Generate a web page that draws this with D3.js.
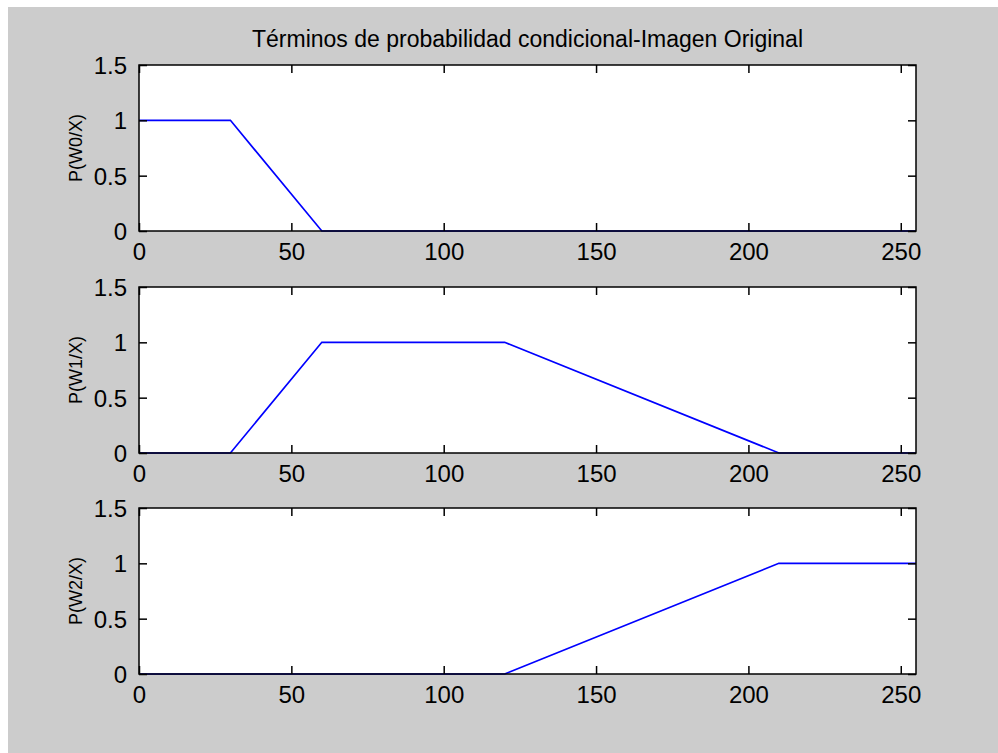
<!DOCTYPE html>
<html>
<head>
<meta charset="utf-8">
<script src="https://cdn.jsdelivr.net/npm/d3@7"></script>
<style>
  html, body { margin: 0; padding: 0; background: #ffffff; }
  svg { display: block; }
  text { font-family: "Liberation Sans Narrow", "Liberation Sans", Arial, sans-serif; fill: #000; }
</style>
</head>
<body>
<script>
// ---- data ----
const title = "Términos de probabilidad condicional-Imagen Original";
const yLabels = ["P(W0/X)", "P(W1/X)", "P(W2/X)"];
const xTicks = [0, 50, 100, 150, 200, 250];
const yTicks = [0, 0.5, 1, 1.5];
const xDomain = [0, 255];
const yDomain = [0, 1.5];
// breakpoints (x, y) of each curve
const w0X = [0, 30, 60, 255];
const w0Y = [1, 1, 0, 0];
const w1X = [0, 30, 60, 120, 210, 255];
const w1Y = [0, 0, 1, 1, 0, 0];
const w2X = [0, 120, 210, 255];
const w2Y = [0, 0, 1, 1];
const seriesX = [w0X, w1X, w2X];
const seriesY = [w0Y, w1Y, w2Y];

// ---- layout ----
const W = 998, H = 753;
const left = 139, plotW = 777, plotH = 166;
const tops = [65, 287, 508];
const tickLen = 8;

const svg = d3.select("body").append("svg").attr("width", W).attr("height", H);
svg.append("rect").attr("x", 8).attr("y", 7).attr("width", W - 8).attr("height", H - 7).attr("fill", "#cccccc");

svg.append("text").attr("x", left + plotW / 2).attr("y", 47)
  .attr("text-anchor", "middle").attr("font-size", 23).text(title);

const x = d3.scaleLinear().domain(xDomain).range([0, plotW]);
const y = d3.scaleLinear().domain(yDomain).range([plotH, 0]);

tops.forEach((top, i) => {
  const g = svg.append("g").attr("transform", `translate(${left},${top})`);
  g.append("rect").attr("width", plotW).attr("height", plotH).attr("fill", "#fff");

  const line = d3.line().x(d => x(d[0])).y(d => y(d[1]));
  const pts = seriesX[i].map((v, k) => [v, seriesY[i][k]]);
  g.append("path").attr("d", line(pts)).attr("fill", "none")
    .attr("stroke", "#0000ff").attr("stroke-width", 1.7);

  const xb = g.append("g").attr("transform", `translate(0,${plotH})`)
    .call(d3.axisBottom(x).tickValues(xTicks).tickSize(-tickLen).tickPadding(12).tickSizeOuter(0));
  const xt = g.append("g")
    .call(d3.axisTop(x).tickValues(xTicks).tickSize(-tickLen).tickFormat("").tickSizeOuter(0));
  const yl = g.append("g")
    .call(d3.axisLeft(y).tickValues(yTicks).tickSize(-tickLen).tickPadding(12).tickFormat(d3.format("")).tickSizeOuter(0));
  const yr = g.append("g").attr("transform", `translate(${plotW},0)`)
    .call(d3.axisRight(y).tickValues(yTicks).tickSize(-tickLen).tickFormat("").tickSizeOuter(0));
  [xb, xt, yl, yr].forEach(a => {
    a.select(".domain").remove();
    a.selectAll("line").attr("stroke", "#000").attr("stroke-width", 1.5);
    a.selectAll("text").attr("font-size", 24).attr("fill", "#000")
      .attr("font-family", '"Liberation Sans Narrow", "Liberation Sans", Arial, sans-serif');
  });
  xb.selectAll("text").attr("dy", "0.71em");
  yl.selectAll("text").attr("dy", "0.36em");

  g.append("rect").attr("width", plotW).attr("height", plotH).attr("fill", "none")
    .attr("stroke", "#000").attr("stroke-width", 1.5);

  svg.append("text")
    .attr("transform", `translate(${left - 57},${top + plotH / 2}) rotate(-90)`)
    .attr("text-anchor", "middle").attr("font-size", 18).text(yLabels[i]);
});
</script>
</body>
</html>
